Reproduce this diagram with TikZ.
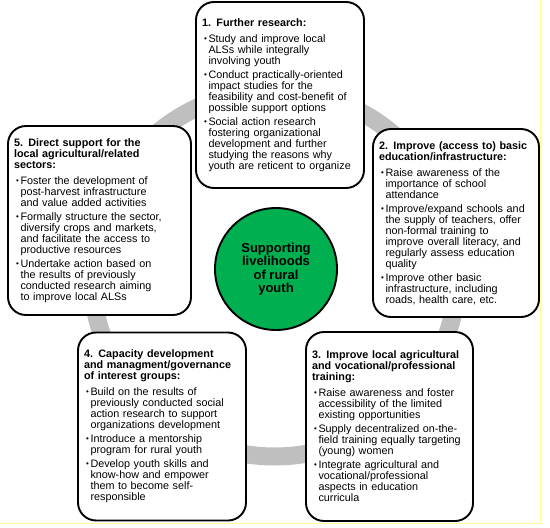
\documentclass[tikz,border=0pt]{standalone}
\usepackage{fontspec}
\setmainfont{Liberation Sans}
\definecolor{ringgray}{RGB}{191,191,191}
\definecolor{hubgreen}{RGB}{0,176,80}
\definecolor{frameyellow}{RGB}{255,255,150}
% small bullet and hanging indent for the box lists
\newcommand\bul{\makebox[6.5pt][l]{\hspace{2pt}\raisebox{1pt}{\fontsize{8}{8}\selectfont\textbullet}}}
\newcommand\ind{\hspace*{6.5pt}}

\begin{document}
\begin{tikzpicture}[x=1pt,y=-1pt,
    actbox/.style={draw,line width=1.9pt,fill=white,rounded corners=18pt,align=left,
        inner xsep=6pt,inner ysep=0pt,font=\fontsize{10.8}{11}\selectfont},
    hub/.style={circle,draw,line width=1.9pt,fill=hubgreen,minimum size=122pt,inner sep=0pt,
        align=center,font=\bfseries\fontsize{13}{13.5}\selectfont}]
    \useasboundingbox (0,0) rectangle (550,528);
    % frame edges and the grey ring behind the boxes
    \draw[frameyellow,line width=1pt] (540.5,0) -- (540.5,523) -- (0,523);
    \coordinate (ringc) at (274.5,273.5);
    \draw[ringgray,line width=18pt] (ringc) circle [radius=183];

    \node[actbox,text width=156pt,minimum height=186pt] (research) at (280,95) {%
        {\bfseries 1. Further research:}\\[5pt]
        \bul Study and improve local\\ \ind ALSs while integrally\\ \ind involving youth\\[3pt]
        \bul Conduct practically-oriented\\ \ind impact studies for the\\ \ind feasibility and cost-benefit of\\ \ind possible support options\\[3pt]
        \bul Social action research\\ \ind fostering organizational\\ \ind development and further\\ \ind studying the reasons why\\ \ind youth are reticent to organize};

    \node[actbox,text width=154pt,minimum height=188pt] (education) at (456,223) {%
        {\bfseries 2. Improve (access to) basic}\\ {\bfseries education/infrastructure:}\\[5pt]
        \bul Raise awareness of the\\ \ind importance of school\\ \ind attendance\\[3pt]
        \bul Improve/expand schools and\\ \ind the supply of teachers, offer\\ \ind non-formal training to\\ \ind improve overall literacy, and\\ \ind regularly assess education\\ \ind quality\\[3pt]
        \bul Improve other basic\\ \ind infrastructure, including\\ \ind roads, health care, etc.};

    \node[actbox,text width=155pt,minimum height=189pt] (training) at (389.5,426.5) {%
        {\bfseries 3. Improve local agricultural}\\ {\bfseries and vocational/professional}\\ {\bfseries training:}\\[5pt]
        \bul Raise awareness and foster\\ \ind accessibility of the limited\\ \ind existing opportunities\\[3pt]
        \bul Supply decentralized on-the-\\ \ind field training equally targeting\\ \ind (young) women\\[3pt]
        \bul Integrate agricultural and\\ \ind vocational/professional\\ \ind aspects in education\\ \ind curricula};

    \node[actbox,text width=156pt,minimum height=188pt] (capacity) at (162,426.5) {%
        {\bfseries 4. Capacity development}\\ {\bfseries and managment/governance}\\ {\bfseries of interest groups:}\\[5pt]
        \bul Build on the results of\\ \ind previously conducted social\\ \ind action research to support\\ \ind organizations development\\[3pt]
        \bul Introduce a mentorship\\ \ind program for rural youth\\[3pt]
        \bul Develop youth skills and\\ \ind know-how and empower\\ \ind them to become self-\\ \ind responsible};

    \node[actbox,text width=171pt,minimum height=189pt] (support) at (99.5,220.5) {%
        {\bfseries 5. Direct support for the}\\ {\bfseries local agricultural/related}\\ {\bfseries sectors:}\\[5pt]
        \bul Foster the development of\\ \ind post-harvest infrastructure\\ \ind and value added activities\\[3pt]
        \bul Formally structure the sector,\\ \ind diversify crops and markets,\\ \ind and facilitate the access to\\ \ind productive resources\\[3pt]
        \bul Undertake action based on\\ \ind the results of previously\\ \ind conducted research aiming\\ \ind to improve local ALSs};

    % centre
    \node[hub] (core) at (276,269) {Supporting\\livelihoods\\of rural\\youth};
\end{tikzpicture}
\end{document}
